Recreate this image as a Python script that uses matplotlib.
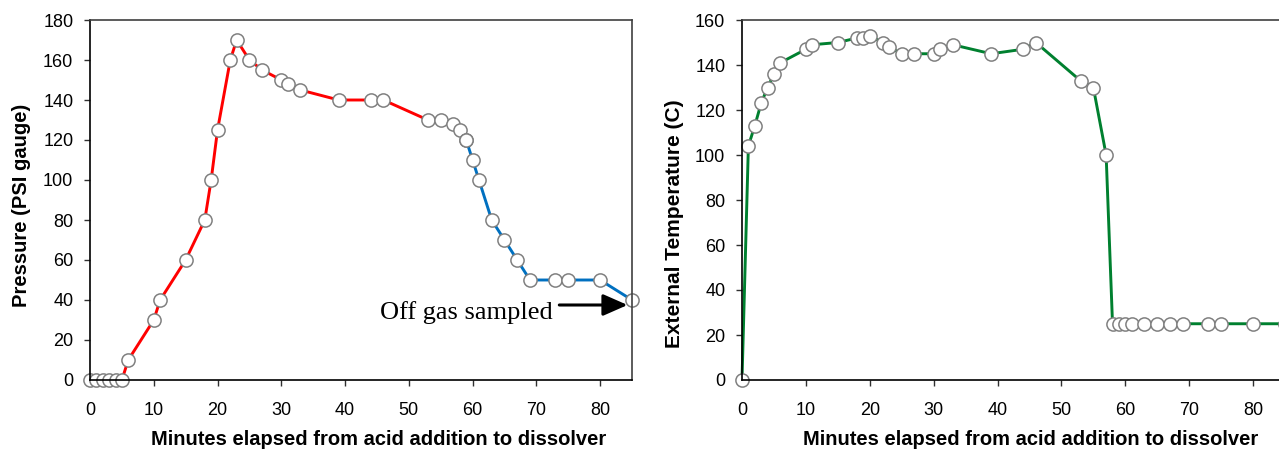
import matplotlib.pyplot as plt
import numpy as np

# pressure, rising part (red) and falling part (blue)
p_rise_min = [0, 1, 2, 3, 4, 5, 6, 10, 11, 15, 18, 19, 20, 22, 23, 25, 27, 30, 31, 33,
              39, 44, 46, 53, 55, 57, 58, 59]
p_rise_psi = [0, 0, 0, 0, 0, 0, 10, 30, 40, 60, 80, 100, 125, 160, 170, 160, 155, 150, 148, 145,
              140, 140, 140, 130, 130, 128, 125, 120]
p_fall_min = [59, 60, 61, 63, 65, 67, 69, 73, 75, 80, 85]
p_fall_psi = [120, 110, 100, 80, 70, 60, 50, 50, 50, 50, 40]

# external temperature
t_min = [0, 1, 2, 3, 4, 5, 6, 10, 11, 15, 18, 19, 20, 22, 23, 25, 27, 30, 31, 33,
         39, 44, 46, 53, 55, 57, 58, 59, 60, 61, 63, 65, 67, 69, 73, 75, 80, 85]
t_degc = [0, 104, 113, 123, 130, 136, 141, 147, 149, 150, 152, 152, 153, 150, 148, 145, 145, 145, 147, 149,
          145, 147, 150, 133, 130, 100, 25, 25, 25, 25, 25, 25, 25, 25, 25, 25, 25, 25]

xlabel = 'Minutes elapsed from acid addition to dissolver'

plt.rcParams['font.family'] = 'Liberation Sans'

fig = plt.figure(figsize=(12.79, 4.49), dpi=100)
ax1 = fig.add_axes([90 / 1279, 69 / 449, 542 / 1279, 360 / 449])
ax2 = fig.add_axes([742 / 1279, 69 / 449, 543 / 1279, 360 / 449])

mk = dict(marker='o', markersize=9.5, markerfacecolor='white', markeredgecolor='#808080',
          markeredgewidth=1.1, linewidth=2.1, clip_on=False)

ax1.plot(p_rise_min, p_rise_psi, color='#FF0000', **mk)
ax1.plot(p_fall_min, p_fall_psi, color='#0070C0', **mk)
ax2.plot(t_min, t_degc, color='#00802F', **mk)

ax1.set_xlim(0, 85)
ax1.set_ylim(0, 180)
ax1.set_yticks(np.arange(0, 181, 20))
ax1.set_ylabel('Pressure (PSI gauge)', fontsize=14.5, fontweight='bold')

ax2.set_xlim(0, 85)
ax2.set_ylim(0, 160)
ax2.set_yticks(np.arange(0, 161, 20))
ax2.set_ylabel('External Temperature (C)', fontsize=15, fontweight='bold')

for ax in (ax1, ax2):
    ax.set_xticks(np.arange(0, 81, 10))
    ax.set_xlabel(xlabel, fontsize=14.5, fontweight='bold')
    ax.tick_params(axis='both', direction='out', length=4, width=1, labelsize=13, color='#303030')
    ax.tick_params(axis='x', pad=12)
    ax.tick_params(axis='y', pad=8)
    for s in ax.spines.values():
        s.set_linewidth(1.2)
        s.set_color('#404040')
    ax.spines['left'].set_color('black')
    ax.spines['bottom'].set_color('black')

# label positions (axes fraction), nudged like the original
ax1.xaxis.set_label_coords(0.533, -0.139)
ax2.xaxis.set_label_coords(0.532, -0.139)
ax1.yaxis.set_label_coords(-0.109, 0.486)
ax2.yaxis.set_label_coords(-0.107, 0.433)

ax1.text(72.6, 33.5, 'Off gas sampled', fontsize=19, family='Liberation Serif',
         ha='right', va='center')
ax1.annotate('', xy=(84.3, 37.5), xytext=(73.6, 37.5),
             arrowprops=dict(arrowstyle='-|>,head_length=0.75,head_width=0.33',
                             mutation_scale=20, color='black', lw=2.2,
                             shrinkA=0, shrinkB=0))

fig.savefig('out.png', dpi=100)
